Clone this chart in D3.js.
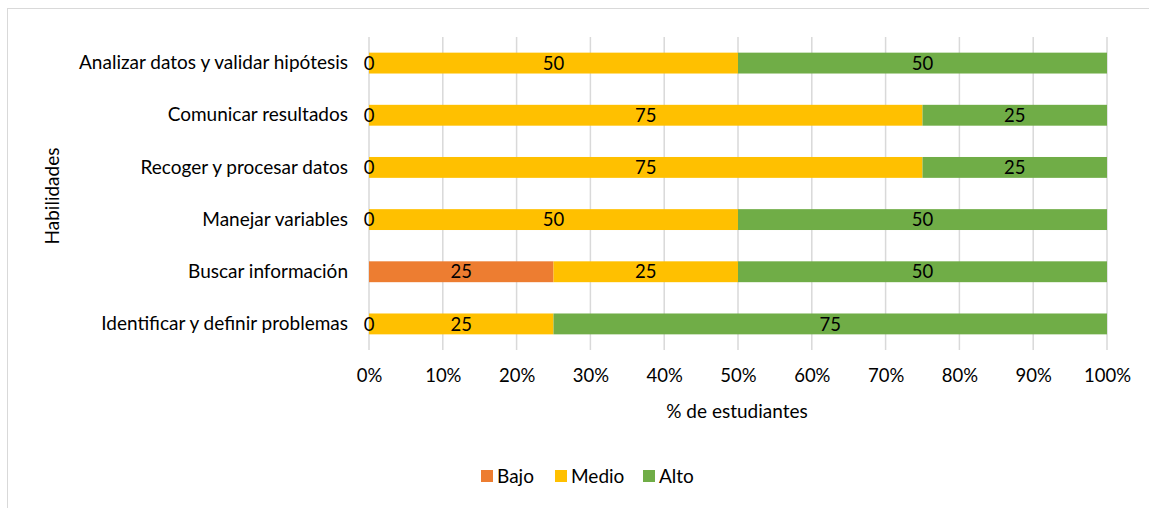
<!DOCTYPE html>
<html><head><meta charset="utf-8">
<script src="https://cdn.jsdelivr.net/npm/d3@7/dist/d3.min.js"></script>
<style>body{margin:0;background:#fff;}svg{display:block;font-family:Lato, "Open Sans", sans-serif;}</style>
</head><body>
<svg id="c" width="1149" height="508"></svg>
<script>
const categories = ["Analizar datos y validar hipótesis","Comunicar resultados","Recoger y procesar datos","Manejar variables","Buscar información","Identificar y definir problemas"];
const series = ["Bajo","Medio","Alto"];
const bajo  = [0,0,0,0,25,0];
const medio = [50,75,75,50,25,25];
const alto  = [50,25,25,50,50,75];
const colors = ["#ED7D31","#FFC000","#70AD47"];
const ticks = [0,10,20,30,40,50,60,70,80,90,100];

const FS = 19, NS = 18.5;
const svg = d3.select("#c");
svg.append("rect").attr("x",7.5).attr("y",8.5).attr("width",1160).attr("height",520)
  .attr("fill","none").attr("stroke","#d9d9d9");

const x = d3.scaleLinear().domain([0,100]).range([369,1107]);
const y = d3.scaleBand().domain(categories).range([37,350]).paddingInner(0.6).paddingOuter(0.3);

svg.append("g").selectAll("line").data(ticks).join("line")
  .attr("x1",d=>x(d)).attr("x2",d=>x(d)).attr("y1",37).attr("y2",350)
  .attr("stroke","#d9d9d9").attr("stroke-width",1.5);

const rows = categories.map((c,i)=>({cat:c,Bajo:bajo[i],Medio:medio[i],Alto:alto[i]}));
const stack = d3.stack().keys(series)(rows);

const g = svg.append("g");
stack.forEach((s,si)=>{
  g.append("g").selectAll("rect").data(s).join("rect")
    .attr("x",d=>x(d[0])).attr("width",d=>x(d[1])-x(d[0]))
    .attr("y",d=>y(d.data.cat)).attr("height",y.bandwidth())
    .attr("fill",colors[si]);
});
stack.forEach((s,si)=>{
  g.append("g").selectAll("text").data(s).join("text")
    .attr("x",d=>x((d[0]+d[1])/2)).attr("y",d=>y(d.data.cat)+y.bandwidth()/2)
    .attr("dy","0.36em").attr("text-anchor","middle")
    .attr("font-size",NS).attr("fill","#000")
    .text(d=>d.data[s.key]);
});

const ya = svg.append("g").attr("transform","translate(369,0)")
  .call(d3.axisLeft(y).tickSize(0).tickPadding(21));
ya.select(".domain").remove();
ya.selectAll("text").attr("font-size",FS).attr("fill","#000").style("font-family","Lato, 'Open Sans', sans-serif");

const xa = svg.append("g").attr("transform","translate(0,350)")
  .call(d3.axisBottom(x).tickValues(ticks).tickFormat(d=>d+"%").tickSize(0).tickPadding(19));
xa.select(".domain").remove();
xa.selectAll("text").attr("font-size",NS).attr("fill","#000").style("font-family","Lato, 'Open Sans', sans-serif");

svg.append("text").attr("x",737).attr("y",411).attr("dy","0.36em").attr("text-anchor","middle")
  .attr("font-size",FS).text("% de estudiantes");
svg.append("text").attr("transform","translate(52,196) rotate(-90)").attr("dy","0.36em")
  .attr("text-anchor","middle").attr("font-size",FS).text("Habilidades");

const lx = [481,555,643];
const lg = svg.append("g");
series.forEach((s,i)=>{
  lg.append("rect").attr("x",lx[i]).attr("y",470).attr("width",12).attr("height",12).attr("fill",colors[i]);
  lg.append("text").attr("x",lx[i]+16).attr("y",476).attr("dy","0.36em").attr("font-size",FS).text(s);
});
</script>
</body></html>
